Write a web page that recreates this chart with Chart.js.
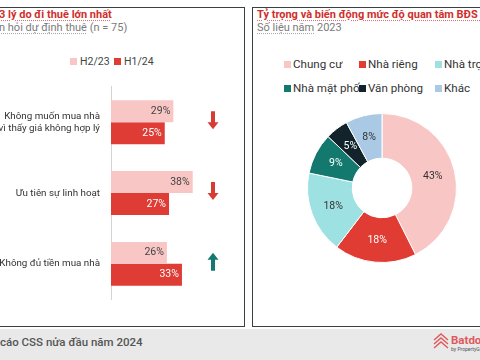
<!DOCTYPE html>
<html><head><meta charset="utf-8">
<script src="https://cdn.jsdelivr.net/npm/chart.js@4/dist/chart.umd.min.js"></script>
<style>
html,body{margin:0;padding:0;width:480px;height:360px;overflow:hidden;background:#fff;font-family:Roboto,"Noto Sans",sans-serif;}
.abs{position:absolute;white-space:nowrap;}
#boxL{left:-4px;top:6.5px;width:249px;height:320px;border:1.5px solid #3b4141;box-sizing:border-box;}
#boxR{left:251.5px;top:6.5px;width:260px;height:320px;border:1.5px solid #3b4141;box-sizing:border-box;}
.title{font-weight:bold;color:#cf2f2b;font-size:11px;text-decoration:underline dotted #e07070;text-underline-offset:2px;}
.sub{color:#7a7a7a;font-size:11px;}
.sub u{text-decoration:underline dotted #aaa;text-underline-offset:2px;}
#footer{left:0;top:329px;width:480px;height:31px;background:#e9e9e9;}
#ftext{left:0;top:335px;font-size:11.5px;font-weight:500;color:#555;}
.lg{font-size:10.5px;color:#444;display:flex;align-items:center;}
.lg i{display:inline-block;width:7px;height:7px;margin-right:3px;}
.lgR{font-size:11.6px;color:#333;display:flex;align-items:center;}
.lgR i{display:inline-block;width:7px;height:7px;margin-right:2px;}
</style></head>
<body>
<div class="abs" id="boxL"></div>
<div class="abs" id="boxR"></div>
<div class="abs title" style="left:-1px;top:8px;">3 lý do đi thuê lớn nhất</div>
<div class="abs sub" style="left:-1px;top:21px;"><u>n hỏi dự định thuê</u> (n = 75)</div>
<div class="abs title" style="left:257px;top:8px;">Tỷ trọng và biến động mức độ quan tâm BĐS theo loại hình</div>
<div class="abs sub" style="left:257px;top:21px;"><u>Số liệu năm</u> 2023</div>
<div id="legL"></div>
<div id="legR"></div>
<canvas id="cL" class="abs" width="244" height="252" style="left:0;top:70px;"></canvas>
<canvas id="cR" class="abs" width="150" height="150" style="left:307px;top:113px;"></canvas>
<div class="abs" id="footer"></div>
<div class="abs" id="ftext">cáo CSS nửa đầu năm 2024</div>
<svg class="abs" style="left:432px;top:332px;" width="18" height="20" viewBox="0 0 18 20">
<g fill="none" stroke="#e0585c" stroke-width="1.4">
<polyline points="2,8 9,2 16,8"/><polyline points="2,12 9,6 16,12"/><polyline points="2,16 9,10 16,16"/>
</g></svg>
<div class="abs" style="left:451px;top:333px;font-size:11.5px;font-weight:bold;color:#e0585c;">Batdongsan</div>
<div class="abs" style="left:451px;top:346px;font-size:5px;color:#555;">by PropertyGuru</div>
<script>
const reasons = [["Không muốn mua nhà","vì thấy giá không hợp lý"],"Ưu tiên sự linh hoạt","Không đủ tiền mua nhà"];
const seriesNames = ["H2/23","H1/24"];
const h2_23 = [29,38,26];
const h1_24 = [25,27,33];
const trend = ["down","down","up"];
const propertyTypes = ["Chung cư","Nhà riêng","Nhà trọ","Nhà mặt phố","Văn phòng","Khác"];
const shares = [43,18,18,9,5,8];

const barColors = ['#f8c6c5','#de3c34'];
const barLabelColors = ['#444','#fff'];
const typeColors = ['#f8c6c5','#e03c33','#9ee1e2','#13796f','#12232c','#a9c9e5'];
const sliceLabelColors = ['#333','#fff','#333','#fff','#fff','#333'];

// left legend
const legL = document.getElementById('legL');
[70,114].forEach((x,i)=>{
  const d=document.createElement('div'); d.className='abs lg'; d.style.left=x+'px'; d.style.top='55px';
  d.innerHTML='<i style="background:'+barColors[i]+'"></i>'+seriesNames[i]; legL.appendChild(d);
});
// right legend
const legR = document.getElementById('legR');
const colX=[284,359,435], rowY=[57,81];
propertyTypes.forEach((t,i)=>{
  const d=document.createElement('div'); d.className='abs lgR';
  d.style.left=colX[i%3]+'px'; d.style.top=rowY[Math.floor(i/3)]+'px';
  d.innerHTML='<i style="background:'+typeColors[i]+'"></i>'+t; legR.appendChild(d);
});

const barLabels = {id:'barLabels', afterDatasetsDraw(chart){
  const ctx=chart.ctx;
  chart.data.datasets.forEach((ds,di)=>{
    chart.getDatasetMeta(di).data.forEach((bar,i)=>{
      ctx.save(); ctx.font='10.5px Roboto'; ctx.fillStyle=barLabelColors[di];
      ctx.textAlign='right'; ctx.textBaseline='middle';
      ctx.fillText(ds.data[i]+'%', bar.x-3, bar.y); ctx.restore();
    });
  });
}};
const arrows = {id:'arrows', afterDatasetsDraw(chart){
  const ctx=chart.ctx, ys=chart.scales.y, x=213;
  trend.forEach((t,i)=>{
    const cy=ys.getPixelForValue(i)-2, up=t==='up', dir=up?-1:1;
    const top=cy-9*dir, tip=cy+9*dir, neck=tip-7*dir;
    ctx.save(); ctx.fillStyle=up?'#137a72':'#d83b34';
    ctx.beginPath();
    ctx.moveTo(x-2,top); ctx.lineTo(x+2,top); ctx.lineTo(x+2,neck); ctx.lineTo(x+5.5,neck);
    ctx.lineTo(x,tip); ctx.lineTo(x-5.5,neck); ctx.lineTo(x-2,neck); ctx.closePath(); ctx.fill();
    ctx.restore();
  });
}};

new Chart(document.getElementById('cL'), {
  type:'bar',
  data:{labels:reasons, datasets:[
    {label:seriesNames[0], data:h2_23, backgroundColor:barColors[0], barPercentage:1, categoryPercentage:0.62},
    {label:seriesNames[1], data:h1_24, backgroundColor:barColors[1], barPercentage:1, categoryPercentage:0.62}
  ]},
  options:{indexAxis:'y', responsive:false, animation:false, devicePixelRatio:1,
    layout:{padding:{top:4.5,bottom:4.5,left:0,right:4}},
    plugins:{legend:{display:false}, tooltip:{enabled:false}},
    scales:{
      x:{display:false, min:0, max:60},
      y:{afterFit(s){s.width=111;}, grid:{display:false, drawTicks:false},
         border:{display:true, color:'#d4d4d4', width:1},
         ticks:{padding:11, color:'#333', font:{family:'Roboto', size:9.8, lineHeight:1.2}}}
    }},
  plugins:[barLabels, arrows]
});

const sliceLabels = {id:'sliceLabels', afterDatasetsDraw(chart){
  const ctx=chart.ctx;
  chart.getDatasetMeta(0).data.forEach((arc,i)=>{
    const p=arc.tooltipPosition();
    ctx.save(); ctx.font='10.5px Roboto'; ctx.fillStyle=sliceLabelColors[i];
    ctx.textAlign='center'; ctx.textBaseline='middle';
    ctx.fillText(shares[i]+'%', p.x, p.y); ctx.restore();
  });
}};
new Chart(document.getElementById('cR'), {
  type:'doughnut',
  data:{labels:propertyTypes, datasets:[{data:shares, backgroundColor:typeColors, borderColor:'#fff', borderWidth:1}]},
  options:{responsive:false, animation:false, devicePixelRatio:1, cutout:'40%',
    layout:{padding:0},
    plugins:{legend:{display:false}, tooltip:{enabled:false}}},
  plugins:[sliceLabels]
});
</script>
</body></html>
